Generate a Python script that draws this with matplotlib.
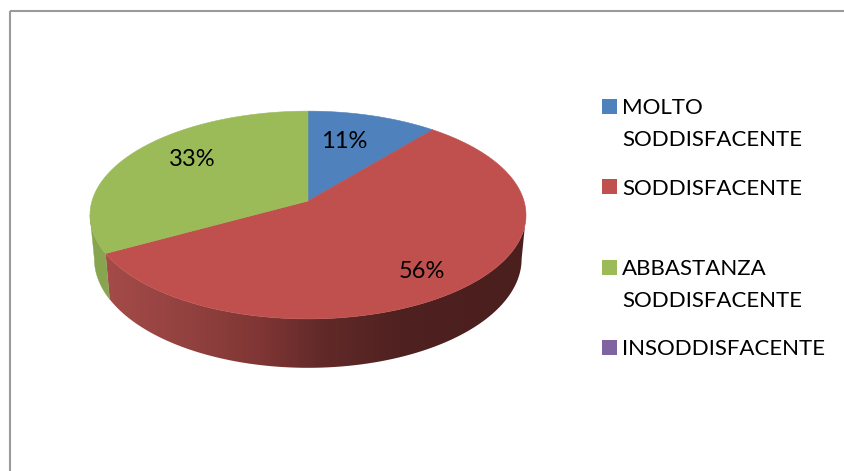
#!/usr/bin/python
# 3D looking pie chart, drawn by hand in pixel coordinates

import numpy as np
import matplotlib
matplotlib.use('Agg')
import matplotlib.pyplot as plt
from matplotlib.colors import to_rgb
from matplotlib.patches import Polygon, Rectangle

#-----------------------------------------------------------------
#                            1  Input
#-----------------------------------------------------------------

categories = ['MOLTO\nSODDISFACENTE', 'SODDISFACENTE', 'ABBASTANZA\nSODDISFACENTE', 'INSODDISFACENTE']
values = [11, 56, 33, 0]
colors = ['#4F81BD', '#C0504D', '#9BBB59', '#8064A2']

# layout, in pixels of the picture
legend_square_y = [99, 179, 260, 340]
legend_text_y = [98, 179, 259, 339]
label_xy = [(344, 141), (422, 272), (192, 159)]

# wall shading of the red slice
shade_x = [105, 200, 260, 320, 400, 525]
shade_colors = ['#A54B49', '#8F403E', '#7F3634', '#622A29', '#4F2120', '#4A1F1E']
green_wall = '#87A44F'

apex_x, apex_y = 308, 201
k = 0.135     # perspective
rx, ry = 216, 102

def rim(theta, bottom=False):
    t = np.radians(theta)
    denom = 1 + k*np.cos(t)
    x = rx*np.sin(t)/denom
    y = -ry*np.cos(t)/denom
    if bottom:
        return apex_x + 0.98*x, apex_y + 1.05*y + 43
    return apex_x + x, apex_y + y

plt.rcParams['font.family'] = ['Lato', 'DejaVu Sans']
fontsize = 16

fig = plt.figure(figsize=(8.45, 4.71), dpi=100)
ax = fig.add_axes([0, 0, 1, 1])

# sides first, then the top faces over them
angles = np.cumsum([0] + values)*3.6
wall_from, wall_to = 97.8, 262.2
for i, v in enumerate(values):
    a0, a1 = max(angles[i], wall_from), min(angles[i+1], wall_to)
    if a1 <= a0:
        continue
    th = np.linspace(a0, a1, 200)
    xt, yt = rim(th)
    xb, yb = rim(th[::-1], bottom=True)
    pts = np.column_stack([np.r_[xt, xb], np.r_[yt, yb]])
    if colors[i] == '#C0504D':
        wall = Polygon(pts, closed=True, fc='none', ec='none')
        ax.add_patch(wall)
        xs = np.arange(100, 530)
        rgb = np.array([to_rgb(c) for c in shade_colors])
        grad = np.stack([np.interp(xs, shade_x, rgb[:, j]) for j in range(3)], axis=-1)[None, :, :]
        im = ax.imshow(grad, extent=[100, 530, 380, 200], aspect='auto', interpolation='bilinear')
        im.set_clip_path(wall)
    else:
        ax.add_patch(Polygon(pts, closed=True, fc=green_wall, ec=green_wall, lw=0.3))

for i, v in enumerate(values):
    if v == 0:
        continue
    th = np.linspace(angles[i], angles[i+1], 200)
    x, y = rim(th)
    pts = np.column_stack([np.r_[apex_x, x], np.r_[apex_y, y]])
    ax.add_patch(Polygon(pts, closed=True, fc=colors[i], ec=colors[i], lw=0.4))

for i, xy in enumerate(label_xy):
    ax.text(xy[0], xy[1], '%d%%' % values[i], ha='center', va='center',
            fontsize=17, color='black')

# legend
for i, c in enumerate(categories):
    ax.add_patch(Rectangle((602, legend_square_y[i]), 15, 15, fc=colors[i], ec='none'))
    ax.text(622, legend_text_y[i], c, ha='left', va='top', fontsize=fontsize,
            color='black', linespacing=1.78)

# chart frame, only top and left are in the picture
ax.plot([10.5, 845], [10.5, 10.5], color='#9A9A9A', lw=1.5, solid_capstyle='butt')
ax.plot([10.5, 10.5], [10.5, 471], color='#9A9A9A', lw=1.5, solid_capstyle='butt')

ax.set_xlim(0, 845)
ax.set_ylim(471, 0)
ax.axis('off')

plt.savefig('out.png', dpi=100)
plt.close()
